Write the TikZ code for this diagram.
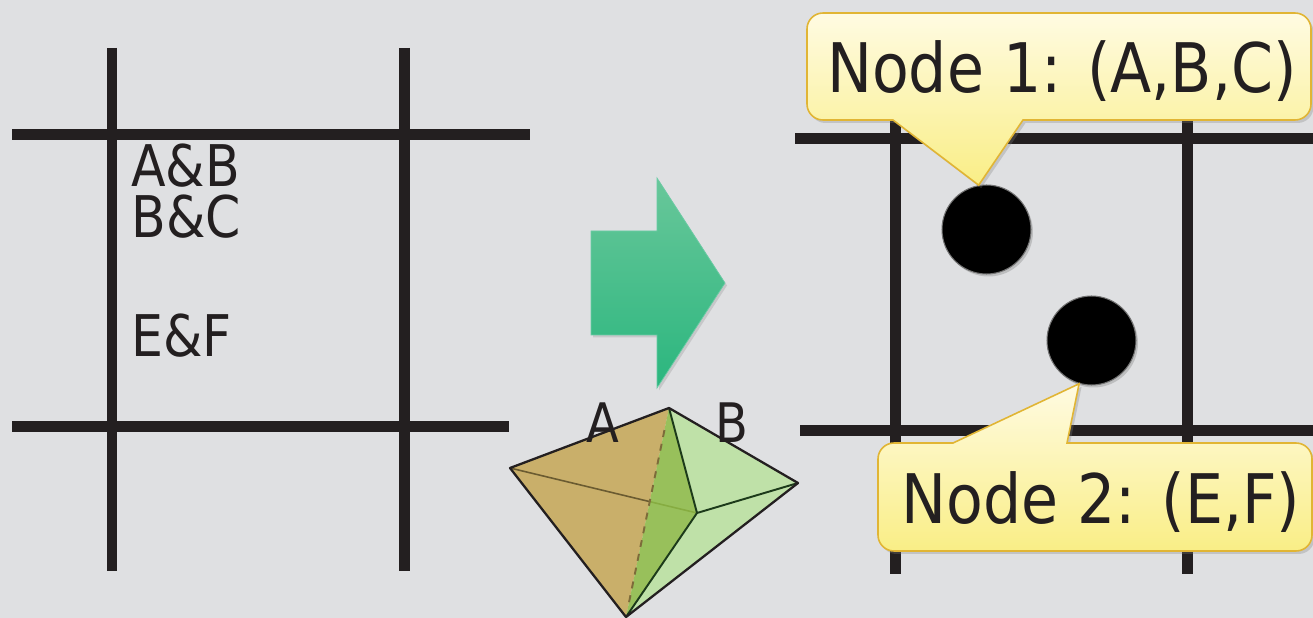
\documentclass[tikz,border=0pt]{standalone}
\usepackage{fontspec}
\setmainfont{DejaVu Sans}[FakeStretch=0.88]
\usetikzlibrary{shadows}

\definecolor{paper}{HTML}{DFE0E2}
\definecolor{ink}{HTML}{231F20}
\definecolor{tanface}{HTML}{C9AF6A}
\definecolor{midface}{HTML}{8CBB44}
\definecolor{lightface}{HTML}{BFE1A8}
\definecolor{edgegreen}{HTML}{1C3A1A}
\definecolor{hiddenedge}{HTML}{7D6B3A}
\definecolor{arrowtop}{HTML}{69C79A}
\definecolor{arrowbot}{HTML}{2AB67E}
\definecolor{tiptop}{HTML}{FFFBE2}
\definecolor{tipbot}{HTML}{F9EE86}
\definecolor{tipedge}{HTML}{E1B534}

\tikzset{
  gridline/.style={ink, line width=0.22cm},
  bubble/.style={draw=tipedge, line width=0.9pt, top color=tiptop, bottom color=tipbot,
    drop shadow={opacity=0.3, shadow xshift=0.05cm, shadow yshift=-0.06cm}},
  bubbletext/.style={inner sep=0pt, anchor=base, text=ink, font=\fontsize{38.9}{40}\selectfont},
  cell/.style={inner sep=0pt, anchor=base west, text=ink, text height=0.72em, text depth=0pt,
    font=\fontsize{32.7}{34}\selectfont},
  facelabel/.style={inner sep=0pt, anchor=base, text=ink, font=\fontsize{31}{32}\selectfont},
  dot/.style={circle, fill=black, draw=black!55, line width=0.6pt, minimum size=1.78cm, inner sep=0pt,
    drop shadow={opacity=0.35, shadow xshift=0.04cm, shadow yshift=-0.05cm}},
}

\begin{document}
\begin{tikzpicture}[x=0.02cm, y=-0.02cm]
    \useasboundingbox (0,0) rectangle (1313,618);
    \fill[paper] (0,0) rectangle (1313,618);

    \begin{scope}[gridline]
      \draw (112,48) -- (112,571);
      \draw (404,48) -- (404,571);
      \draw (12,134.5) -- (530,134.5);
      \draw (12,426.5) -- (509,426.5);
      \draw (895,52) -- (895,574);
      \draw (1187,52) -- (1187,574);
      \draw (795,138.5) -- (1313,138.5);
      \draw (800,430.5) -- (1313,430.5);
    \end{scope}

    \node[cell] (ab) at (131,187) {A\&B};
    \node[cell] (bc) at (131,238) {B\&C};
    \node[cell] (ef) at (131,357) {E\&F};

    \path[draw=arrowbot!70!white, line width=0.4pt, top color=arrowtop, bottom color=arrowbot,
      drop shadow={opacity=0.25, shadow xshift=0.04cm, shadow yshift=-0.05cm}]
      (591,231) -- (657,231) -- (657,178) -- (725,283) -- (657,388) -- (657,335) -- (591,335) -- cycle;

    \coordinate (top) at (669,408);
    \coordinate (west) at (510,468);
    \coordinate (east) at (798,483);
    \coordinate (foot) at (626,617);
    \coordinate (core) at (697,513);
    \fill[tanface] (west) -- (top) -- (foot) -- cycle;
    \draw[hiddenedge!85!black, line width=0.9pt] (west) -- (core);
    \fill[midface, opacity=0.85] (top) -- (core) -- (foot) -- cycle;
    \fill[lightface] (top) -- (east) -- (core) -- cycle;
    \fill[lightface] (core) -- (east) -- (foot) -- cycle;
    \draw[hiddenedge, line width=1.1pt, dash pattern=on 4pt off 4pt, shorten <=0.45cm, shorten >=0.2cm] (top) -- (foot);
    \draw[edgegreen, line width=1.1pt] (top) -- (core) -- (foot) (core) -- (east);
    \draw[ink, line width=1.3pt, line join=round] (west) -- (top) -- (east) -- (foot) -- cycle;
    \node[facelabel] (fa) at (603,442) {A};
    \node[facelabel] (fb) at (732,442) {B};

    \node[dot] (n1) at (986.5,229.5) {};
    \node[dot] (n2) at (1091.5,340.5) {};

    \path[bubble] (893,120) -- (n1.100) -- (1023,120) [rounded corners=0.32cm] -- (1311,120)
      -- (1311,13) -- (807,13) -- (807,120) [sharp corners] -- cycle;
    \node[bubbletext] (l1) at (1062,93) {Node 1: (A,B,C)};

    \path[bubble] (953,443) -- (n2.-106) -- (1067,443) [rounded corners=0.32cm] -- (1312,443)
      -- (1312,551) -- (878,551) -- (878,443) [sharp corners] -- cycle;
    \node[bubbletext] (l2) at (1101,523) {Node 2: (E,F)};
\end{tikzpicture}
\end{document}
